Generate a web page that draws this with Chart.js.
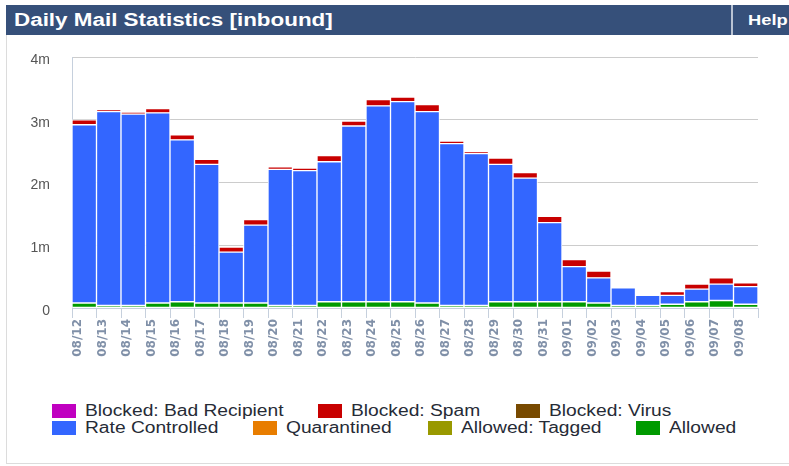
<!DOCTYPE html>
<html>
<head>
<meta charset="utf-8">
<script src="https://cdn.jsdelivr.net/npm/chart.js@4.4.1/dist/chart.umd.min.js"></script>
<style>
    html, body { margin: 0; padding: 0; background: #fff; }
    body { width: 789px; height: 466px; position: relative; overflow: hidden; font-family: "Liberation Sans", Arial, sans-serif; }
    .panel { position: absolute; left: 6px; top: 5px; width: 790px; height: 458px; border-left: 1px solid #dcdcdc; border-bottom: 1px solid #dcdcdc; }
    .head { position: absolute; left: 6px; top: 5px; width: 783px; height: 30px; background: #36507a; }
    .head__title { position: absolute; left: 8px; top: 5px; color: #fff; font-weight: bold; font-size: 18px; transform: scaleX(1.245); transform-origin: 0 0; white-space: nowrap; }
    .head__sep { position: absolute; left: 725px; top: 0; width: 2px; height: 30px; background: #b9c3d3; }
    .head__help { position: absolute; left: 742px; top: 6px; color: #fff; font-weight: bold; font-size: 15px; transform: scaleX(1.22); transform-origin: 0 0; }
    #chart { position: absolute; left: 0; top: 0; }
    .lg { position: absolute; font-size: 16px; color: #262b36; white-space: nowrap; }
    .lg__box { position: absolute; width: 24px; height: 14px; }
    .lg__txt { position: absolute; line-height: 16px; transform: scaleX(1.2); transform-origin: 0 0; }
</style>
</head>
<body>
<div class="panel"></div>
<div class="head">
    <div class="head__title">Daily Mail Statistics [inbound]</div>
    <div class="head__sep"></div>
    <div class="head__help">Help</div>
</div>
<canvas id="chart" width="789" height="385"></canvas>
<div id="legend"></div>
<script>
const DAYS = ['08/12', '08/13', '08/14', '08/15', '08/16', '08/17', '08/18', '08/19', '08/20', '08/21',
              '08/22', '08/23', '08/24', '08/25', '08/26', '08/27', '08/28', '08/29', '08/30', '08/31',
              '09/01', '09/02', '09/03', '09/04', '09/05', '09/06', '09/07', '09/08'];

// values in millions of messages
const ALLOWED      = [0.08, 0.04, 0.04, 0.08, 0.10, 0.08, 0.08, 0.08, 0.04, 0.04,
                      0.10, 0.10, 0.10, 0.10, 0.08, 0.04, 0.04, 0.10, 0.10, 0.10,
                      0.10, 0.08, 0.04, 0.04, 0.06, 0.10, 0.12, 0.06];
const RATE_CTRL    = [2.84, 3.09, 3.05, 3.03, 2.58, 2.21, 0.81, 1.24, 2.17, 2.15,
                      2.23, 2.80, 3.12, 3.19, 3.05, 2.58, 2.42, 2.19, 1.97, 1.26,
                      0.56, 0.40, 0.28, 0.16, 0.14, 0.20, 0.26, 0.28];
const SPAM         = [0.08, 0.03, 0.03, 0.07, 0.08, 0.08, 0.08, 0.09, 0.04, 0.04,
                      0.10, 0.08, 0.10, 0.07, 0.11, 0.04, 0.03, 0.10, 0.09, 0.10,
                      0.11, 0.11, 0, 0, 0.06, 0.08, 0.10, 0.06];
const TAGGED       = DAYS.map(() => 0);
const QUARANTINED  = DAYS.map(() => 0);
const VIRUS        = DAYS.map(() => 0);
const BAD_RCPT     = DAYS.map(() => 0);

const Y_TICKS = [0, 1, 2, 3, 4];

// stacked bottom -> top
const SERIES = [
    { label: 'Allowed',             color: '#009a00', data: ALLOWED },
    { label: 'Allowed: Tagged',     color: '#999900', data: TAGGED },
    { label: 'Quarantined',         color: '#e87d00', data: QUARANTINED },
    { label: 'Rate Controlled',     color: '#3366ff', data: RATE_CTRL },
    { label: 'Blocked: Virus',      color: '#784a00', data: VIRUS },
    { label: 'Blocked: Spam',       color: '#c80000', data: SPAM },
    { label: 'Blocked: Bad Recipient', color: '#c000c0', data: BAD_RCPT },
];

// --- Legend (two rows, fixed slots like the original page) ---
const LEGEND_SLOTS = [
    { label: 'Blocked: Bad Recipient', x: 52,  y: 404 },
    { label: 'Blocked: Spam',          x: 318, y: 404 },
    { label: 'Blocked: Virus',         x: 516, y: 404 },
    { label: 'Rate Controlled',        x: 52,  y: 421 },
    { label: 'Quarantined',            x: 253, y: 421 },
    { label: 'Allowed: Tagged',        x: 428, y: 421 },
    { label: 'Allowed',                x: 636, y: 421 },
];
const legendEl = document.getElementById('legend');
legendEl.innerHTML = LEGEND_SLOTS.map(s => {
    const color = SERIES.find(d => d.label === s.label).color;
    return `<div class="lg" style="left:${s.x}px;top:${s.y}px;">
        <span class="lg__box" style="left:0;top:0;background:${color};"></span>
        <span class="lg__txt" style="left:33px;top:-1px;">${s.label}</span>
    </div>`;
}).join('');

new Chart(document.getElementById('chart'), {
    type: 'bar',
    data: {
        labels: DAYS,
        datasets: SERIES.map(s => ({
            label: s.label,
            data: s.data,
            backgroundColor: s.color,
            borderColor: '#ffffff',
            borderWidth: 1,
            borderSkipped: false,
            categoryPercentage: 1,
            barPercentage: 1,
        }))
    },
    options: {
        responsive: false,
        animation: false,
        layout: { padding: { top: 57, right: 31, left: 0, bottom: 0 } },
        plugins: {
            legend: { display: false },
            tooltip: { enabled: false }
        },
        scales: {
            x: {
                stacked: true,
                afterFit: s => { s.height = 77; },
                grid: { drawOnChartArea: false, drawTicks: true, tickLength: 10, color: '#c6d0dd' },
                border: { color: '#c6d0dd' },
                ticks: {
                    minRotation: 90, maxRotation: 90, autoSkip: false, padding: 1, labelOffset: -6,
                    color: '#8090a8', font: { family: 'DejaVu Sans', size: 12, weight: 'bold' }
                }
            },
            y: {
                stacked: true,
                min: 0, max: 4,
                afterFit: s => { s.width = 72; },
                afterBuildTicks: s => { s.ticks = Y_TICKS.map(v => ({ value: v })); },
                grid: { color: '#cccccc', drawTicks: false },
                border: { color: '#c6d0dd' },
                ticks: {
                    padding: 22, labelOffset: 3, color: '#555555',
                    font: { family: 'Liberation Sans', size: 14 },
                    callback: v => v === 0 ? '0' : v + 'm'
                }
            }
        }
    }
});
</script>
</body>
</html>
